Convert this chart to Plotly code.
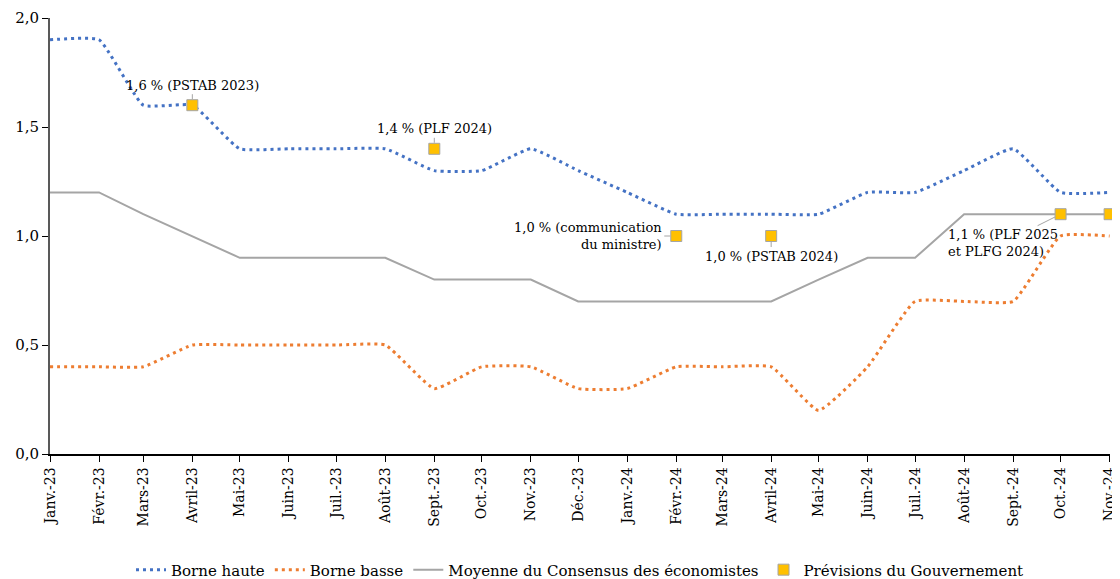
import plotly.graph_objects as go

months = ["2023-01-01", "2023-02-01", "2023-03-01", "2023-04-01", "2023-05-01", "2023-06-01",
          "2023-07-01", "2023-08-01", "2023-09-01", "2023-10-01", "2023-11-01", "2023-12-01",
          "2024-01-01", "2024-02-01", "2024-03-01", "2024-04-01", "2024-05-01", "2024-06-01",
          "2024-07-01", "2024-08-01", "2024-09-01", "2024-10-01", "2024-11-01"]
month_labels = ["Janv.-23", "Févr.-23", "Mars-23", "Avril-23", "Mai-23", "Juin-23", "Juil.-23",
                "Août-23", "Sept.-23", "Oct.-23", "Nov.-23", "Déc.-23", "Janv.-24", "Févr.-24",
                "Mars-24", "Avril-24", "Mai-24", "Juin-24", "Juil.-24", "Août-24", "Sept.-24",
                "Oct.-24", "Nov.-24"]

borne_haute = [1.9, 1.9, 1.6, 1.6, 1.4, 1.4, 1.4, 1.4, 1.3, 1.3, 1.4, 1.3,
               1.2, 1.1, 1.1, 1.1, 1.1, 1.2, 1.2, 1.3, 1.4, 1.2, 1.2]
borne_basse = [0.4, 0.4, 0.4, 0.5, 0.5, 0.5, 0.5, 0.5, 0.3, 0.4, 0.4, 0.3,
               0.3, 0.4, 0.4, 0.4, 0.2, 0.4, 0.7, 0.7, 0.7, 1.0, 1.0]
consensus = [1.2, 1.2, 1.1, 1.0, 0.9, 0.9, 0.9, 0.9, 0.8, 0.8, 0.8, 0.7,
             0.7, 0.7, 0.7, 0.7, 0.8, 0.9, 0.9, 1.1, 1.1, 1.1, 1.1]

gov_dates = ["2023-04-01", "2023-09-01", "2024-02-01", "2024-04-01", "2024-10-01", "2024-11-01"]
gov_values = [1.6, 1.4, 1.0, 1.0, 1.1, 1.1]
gov_labels = ["1,6 % (PSTAB 2023)", "1,4 % (PLF 2024)", "1,0 % (communication<br>du ministre)",
              "1,0 % (PSTAB 2024)", "1,1 % (PLF 2025<br>et PLFG 2024)", None]

FONT = "DejaVu Serif"

fig = go.Figure()
fig.add_trace(go.Scatter(x=months, y=borne_haute, mode="lines", name="Borne haute",
                         line=dict(color="#4472C4", width=3, dash="3px,4px", shape="spline", smoothing=0.4)))
fig.add_trace(go.Scatter(x=months, y=borne_basse, mode="lines", name="Borne basse",
                         line=dict(color="#ED7D31", width=3, dash="3px,4px", shape="spline", smoothing=0.4)))
fig.add_trace(go.Scatter(x=months, y=consensus, mode="lines", name="Moyenne du Consensus des économistes",
                         line=dict(color="#A5A5A5", width=2)))
fig.add_trace(go.Scatter(x=gov_dates, y=gov_values, mode="markers", name="Prévisions du Gouvernement",
                         marker=dict(symbol="square", size=11, color="#FFC000",
                                     line=dict(color="#A5A5A5", width=1)),
                         cliponaxis=False))

ann_cfg = [
    dict(ax=0, ay=-20),
    dict(ax=0, ay=-20),
    dict(ax=-12, ay=0, xanchor="right", yanchor="middle", align="right"),
    dict(ax=0, ay=20),
    dict(ax=-58, ay=29, align="left"),
]
for i, lab in enumerate(gov_labels):
    if lab is None:
        continue
    fig.add_annotation(x=gov_dates[i], y=gov_values[i], text=lab, showarrow=True,
                       arrowhead=0, arrowwidth=1, arrowcolor="#A5A5A5", standoff=6,
                       font=dict(family=FONT, size=13, color="#000000"), **ann_cfg[i])

fig.update_layout(
    width=1112, height=571,
    margin=dict(l=42, r=10, t=10, b=125, autoexpand=False),
    plot_bgcolor="white", paper_bgcolor="white",
    separators=", ",
    font=dict(family=FONT, size=14, color="#000000"),
    showlegend=True,
    legend=dict(orientation="h", x=0.5, xanchor="center", y=-0.228, yanchor="top",
                font=dict(family=FONT, size=15), tracegroupgap=0),
)
fig.update_xaxes(type="date", range=["2023-01-01", "2024-11-01 06:00"], tickvals=months, ticktext=month_labels,
                 tickangle=-90, ticks="outside", ticklen=6, tickcolor="#000000", automargin=False,
                 ticklabeloverflow="allow",
                 showline=True, linecolor="#000000", linewidth=1.5, showgrid=False, zeroline=False,
                 tickfont=dict(family=FONT, size=14))
fig.update_yaxes(range=[0, 2], dtick=0.5, tickformat=".1f", ticks="outside", ticklen=6, automargin=False,
                 tickcolor="#000000", showline=True, linecolor="#595959", linewidth=2,
                 showgrid=False, zeroline=False, tickfont=dict(family=FONT, size=15))

fig.write_html("out.html")
